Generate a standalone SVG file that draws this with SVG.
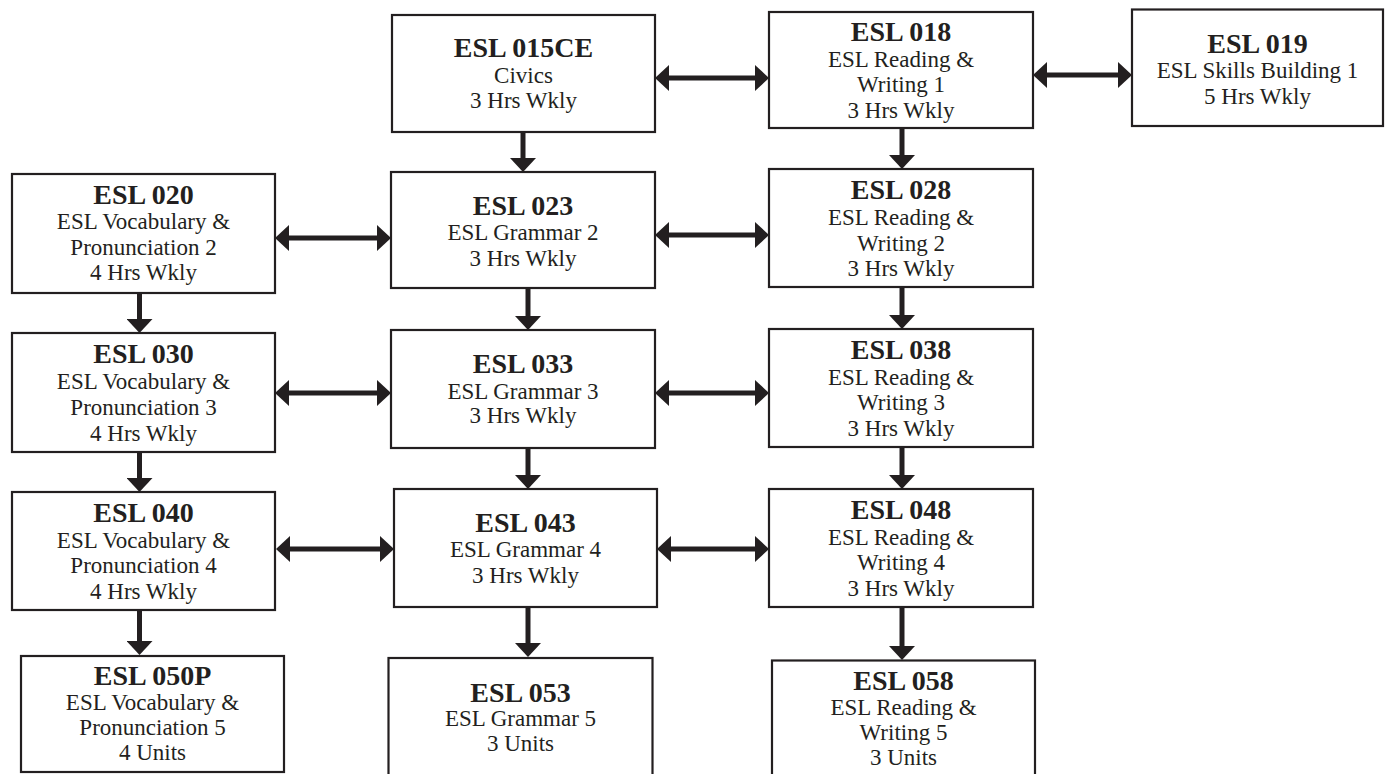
<svg xmlns="http://www.w3.org/2000/svg" width="1385" height="774" viewBox="0 0 1385 774">
<style>
.box{fill:#fff;stroke:#231f20;stroke-width:2.2}
text{font-family:"Liberation Serif","Times New Roman",serif;fill:#231f20;text-anchor:middle}
.t{font-weight:bold;font-size:28px}
.s{font-size:23px}
.c{stroke:#231f20;stroke-width:5;fill:none}
</style>
<defs>
<marker id="ah" markerUnits="userSpaceOnUse" markerWidth="14" markerHeight="26" refX="0" refY="13" orient="auto-start-reverse" viewBox="0 0 14 26">
<path d="M0,0 L14,13 L0,26 z" fill="#231f20"/>
</marker>
</defs>
<rect width="1385" height="774" fill="#fff"/>
<g id="connectors">
<line class="c" x1="669" y1="78" x2="755" y2="78" marker-start="url(#ah)" marker-end="url(#ah)"/>
<line class="c" x1="1047" y1="75" x2="1118" y2="75" marker-start="url(#ah)" marker-end="url(#ah)"/>
<line class="c" x1="289" y1="238" x2="377" y2="238" marker-start="url(#ah)" marker-end="url(#ah)"/>
<line class="c" x1="669" y1="235" x2="755" y2="235" marker-start="url(#ah)" marker-end="url(#ah)"/>
<line class="c" x1="289" y1="393" x2="377" y2="393" marker-start="url(#ah)" marker-end="url(#ah)"/>
<line class="c" x1="669" y1="393" x2="755" y2="393" marker-start="url(#ah)" marker-end="url(#ah)"/>
<line class="c" x1="290" y1="549" x2="380" y2="549" marker-start="url(#ah)" marker-end="url(#ah)"/>
<line class="c" x1="671" y1="549" x2="755" y2="549" marker-start="url(#ah)" marker-end="url(#ah)"/>
<line class="c" x1="523" y1="132" x2="523" y2="158" marker-end="url(#ah)"/>
<line class="c" x1="902" y1="128" x2="902" y2="155" marker-end="url(#ah)"/>
<line class="c" x1="139.5" y1="293" x2="139.5" y2="319" marker-end="url(#ah)"/>
<line class="c" x1="528" y1="288" x2="528" y2="316" marker-end="url(#ah)"/>
<line class="c" x1="902" y1="287" x2="902" y2="315" marker-end="url(#ah)"/>
<line class="c" x1="139.5" y1="452" x2="139.5" y2="478" marker-end="url(#ah)"/>
<line class="c" x1="528" y1="448" x2="528" y2="475" marker-end="url(#ah)"/>
<line class="c" x1="902" y1="447" x2="902" y2="475" marker-end="url(#ah)"/>
<line class="c" x1="139.5" y1="610" x2="139.5" y2="641" marker-end="url(#ah)"/>
<line class="c" x1="528" y1="607" x2="528" y2="643" marker-end="url(#ah)"/>
<line class="c" x1="902" y1="607" x2="902" y2="646" marker-end="url(#ah)"/>
</g>
<g id="esl015ce">
<rect class="box" x="392" y="15" width="263" height="117"/>
<text x="523.5" y="57" class="t">ESL 015CE</text>
<text x="523.5" y="82.5" class="s">Civics</text>
<text x="523.5" y="108" class="s">3 Hrs Wkly</text>
</g>
<g id="esl018">
<rect class="box" x="769" y="12" width="264" height="116"/>
<text x="901" y="41" class="t">ESL 018</text>
<text x="901" y="66.5" class="s">ESL Reading &amp;</text>
<text x="901" y="92" class="s">Writing 1</text>
<text x="901" y="117.5" class="s">3 Hrs Wkly</text>
</g>
<g id="esl019">
<rect class="box" x="1132" y="9.5" width="251" height="116.5"/>
<text x="1257.5" y="52.5" class="t">ESL 019</text>
<text x="1257.5" y="78" class="s">ESL Skills Building 1</text>
<text x="1257.5" y="103.5" class="s">5 Hrs Wkly</text>
</g>
<g id="esl020">
<rect class="box" x="12" y="174" width="263" height="119"/>
<text x="143.5" y="203.5" class="t">ESL 020</text>
<text x="143.5" y="229" class="s">ESL Vocabulary &amp;</text>
<text x="143.5" y="254.5" class="s">Pronunciation 2</text>
<text x="143.5" y="280" class="s">4 Hrs Wkly</text>
</g>
<g id="esl023">
<rect class="box" x="391" y="172" width="264" height="116"/>
<text x="523" y="214.5" class="t">ESL 023</text>
<text x="523" y="240" class="s">ESL Grammar 2</text>
<text x="523" y="265.5" class="s">3 Hrs Wkly</text>
</g>
<g id="esl028">
<rect class="box" x="769" y="169" width="264" height="118"/>
<text x="901" y="199" class="t">ESL 028</text>
<text x="901" y="225" class="s">ESL Reading &amp;</text>
<text x="901" y="250.5" class="s">Writing 2</text>
<text x="901" y="276" class="s">3 Hrs Wkly</text>
</g>
<g id="esl030">
<rect class="box" x="12" y="333" width="263" height="119"/>
<text x="143.5" y="363" class="t">ESL 030</text>
<text x="143.5" y="388.5" class="s">ESL Vocabulary &amp;</text>
<text x="143.5" y="414.5" class="s">Pronunciation 3</text>
<text x="143.5" y="440.5" class="s">4 Hrs Wkly</text>
</g>
<g id="esl033">
<rect class="box" x="391" y="330" width="264" height="118"/>
<text x="523" y="372.5" class="t">ESL 033</text>
<text x="523" y="398.5" class="s">ESL Grammar 3</text>
<text x="523" y="423" class="s">3 Hrs Wkly</text>
</g>
<g id="esl038">
<rect class="box" x="769" y="329" width="264" height="118"/>
<text x="901" y="359" class="t">ESL 038</text>
<text x="901" y="384.5" class="s">ESL Reading &amp;</text>
<text x="901" y="410" class="s">Writing 3</text>
<text x="901" y="435.5" class="s">3 Hrs Wkly</text>
</g>
<g id="esl040">
<rect class="box" x="12" y="492" width="263" height="118"/>
<text x="143.5" y="522" class="t">ESL 040</text>
<text x="143.5" y="547.5" class="s">ESL Vocabulary &amp;</text>
<text x="143.5" y="573" class="s">Pronunciation 4</text>
<text x="143.5" y="598.5" class="s">4 Hrs Wkly</text>
</g>
<g id="esl043">
<rect class="box" x="394" y="489" width="263" height="118"/>
<text x="525.5" y="531.5" class="t">ESL 043</text>
<text x="525.5" y="557" class="s">ESL Grammar 4</text>
<text x="525.5" y="582.5" class="s">3 Hrs Wkly</text>
</g>
<g id="esl048">
<rect class="box" x="769" y="489" width="264" height="118"/>
<text x="901" y="519" class="t">ESL 048</text>
<text x="901" y="544.5" class="s">ESL Reading &amp;</text>
<text x="901" y="570" class="s">Writing 4</text>
<text x="901" y="595.5" class="s">3 Hrs Wkly</text>
</g>
<g id="esl050p">
<rect class="box" x="21" y="656" width="263" height="116"/>
<text x="152.5" y="685" class="t">ESL 050P</text>
<text x="152.5" y="710" class="s">ESL Vocabulary &amp;</text>
<text x="152.5" y="735" class="s">Pronunciation 5</text>
<text x="152.5" y="760" class="s">4 Units</text>
</g>
<g id="esl053">
<rect class="box" x="388.5" y="658" width="264" height="120"/>
<text x="520.5" y="701.5" class="t">ESL 053</text>
<text x="520.5" y="725.5" class="s">ESL Grammar 5</text>
<text x="520.5" y="750.5" class="s">3 Units</text>
</g>
<g id="esl058">
<rect class="box" x="772" y="660.5" width="263" height="120"/>
<text x="903.5" y="690" class="t">ESL 058</text>
<text x="903.5" y="715" class="s">ESL Reading &amp;</text>
<text x="903.5" y="740" class="s">Writing 5</text>
<text x="903.5" y="765" class="s">3 Units</text>
</g>
</svg>
